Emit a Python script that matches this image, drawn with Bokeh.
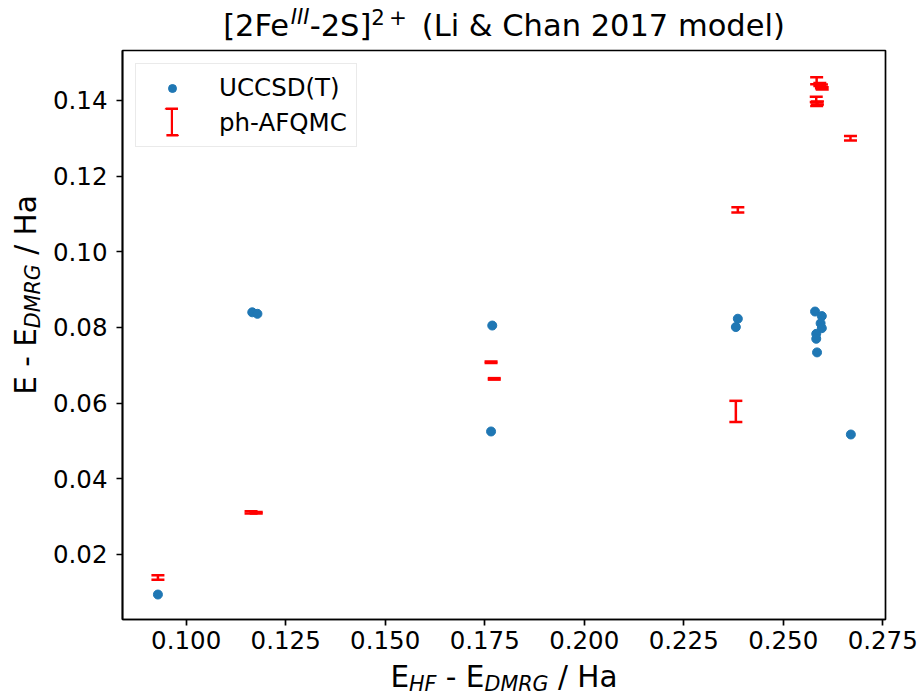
from bokeh.plotting import figure
from bokeh.layouts import column, row
from bokeh.models import (ColumnDataSource, Whisker, TeeHead, Range1d, FixedTicker,
                          PrintfTickFormatter, Label, Legend, LegendItem)
from bokeh.embed import file_html
from bokeh.resources import INLINE

# ---------------- data ----------------
uccsd_x = [0.0929, 0.1166, 0.1179, 0.1769, 0.1766, 0.2386, 0.2381,
           0.2580, 0.2597, 0.2594, 0.2597, 0.2583, 0.2583, 0.2585, 0.2670]
uccsd_y = [0.0094, 0.0840, 0.0836, 0.0805, 0.0525, 0.0823, 0.0801,
           0.0842, 0.0830, 0.0811, 0.0798, 0.0783, 0.0770, 0.0734, 0.0517]

afqmc_x = [0.0929, 0.1163, 0.1176, 0.1766, 0.1774, 0.2386, 0.2381,
           0.2584, 0.2596, 0.2592, 0.2598, 0.2583, 0.2586, 0.2584, 0.2669]
afqmc_y = [0.0139, 0.0311, 0.0310, 0.0708, 0.0664, 0.1111, 0.0578,
           0.1452, 0.1437, 0.1442, 0.1432, 0.1403, 0.1393, 0.1390, 0.1300]
afqmc_err = [0.0006, 0.0003, 0.0002, 0.0002, 0.0002, 0.0007, 0.0028,
             0.0009, 0.0005, 0.0004, 0.0003, 0.0007, 0.0004, 0.0005, 0.0006]

x_ticks = [0.100, 0.125, 0.150, 0.175, 0.200, 0.225, 0.250, 0.275]
y_ticks = [0.02, 0.04, 0.06, 0.08, 0.10, 0.12, 0.14]
x_limits = (0.0840, 0.2757)
y_limits = (0.0028, 0.1532)

series_labels = ["UCCSD(T)", "ph-AFQMC"]

# ---------------- layout constants ----------------
FONT = "DejaVu Sans"
TOTAL_W, TOTAL_H = 919, 696
TITLE_H = 46          # strip above the main figure
YLAB_W = 48           # strip left of the main figure
BL, BR, BT, BB = 74, 34, 4, 40
FH = 569
MAIN_W = TOTAL_W - YLAB_W
MAIN_H = BT + FH + BB
XLAB_H = TOTAL_H - TITLE_H - MAIN_H   # strip below the main figure
FW = MAIN_W - BL - BR
TICK_PX = 24.5
LABEL_PX = 29.5
TITLE_PX = 30.5
BASE_FIX = 0.34       # anchor sits this many em above the drawn baseline
BLUE = "#1f77b4"
RED = "#ff0000"

p = figure(width=MAIN_W, height=MAIN_H, output_backend="svg", toolbar_location=None,
           title=None,
           x_range=Range1d(*x_limits), y_range=Range1d(*y_limits),
           min_border_left=BL, min_border_right=BR,
           min_border_top=BT, min_border_bottom=BB)
p.background_fill_color = "white"
p.border_fill_color = "white"
p.outline_line_color = "black"
p.outline_line_width = 1.7
p.outline_line_alpha = 1.0
p.xgrid.visible = False
p.ygrid.visible = False

p.xaxis.ticker = FixedTicker(ticks=x_ticks)
p.yaxis.ticker = FixedTicker(ticks=y_ticks)
p.xaxis.formatter = PrintfTickFormatter(format="%.3f")
p.yaxis.formatter = PrintfTickFormatter(format="%.2f")
for ax in (p.xaxis[0], p.yaxis[0]):
    ax.major_tick_in = 0
    ax.major_tick_out = 6
    ax.minor_tick_in = 0
    ax.minor_tick_out = 0
    ax.axis_line_color = "black"
    ax.axis_line_width = 1.7
    ax.major_tick_line_color = "black"
    ax.major_tick_line_width = 1.7
    ax.major_label_text_font = FONT
    ax.major_label_text_font_size = f"{TICK_PX}px"
    ax.major_label_text_color = "black"
p.xaxis.major_label_standoff = 5
p.yaxis.major_label_standoff = 9

# ---------------- error bars (ph-AFQMC) ----------------
src_a = ColumnDataSource(dict(
    x=afqmc_x, y=afqmc_y,
    lower=[y - e for y, e in zip(afqmc_y, afqmc_err)],
    upper=[y + e for y, e in zip(afqmc_y, afqmc_err)],
))
whisk = Whisker(source=src_a, base="x", upper="upper", lower="lower",
                dimension="height", line_color=RED, line_width=2.5,
                upper_head=TeeHead(size=13, line_color=RED, line_width=2.5),
                lower_head=TeeHead(size=13, line_color=RED, line_width=2.5))
whisk.level = "glyph"
p.add_layout(whisk)

# ---------------- scatter (UCCSD(T)) ----------------
r_blue = p.scatter(uccsd_x, uccsd_y, size=9, fill_color=BLUE, line_color=BLUE)

# ---------------- legend ----------------
# invisible proxy for the error-bar row (its icon is drawn by overlay legends)
r_dummy = p.scatter(afqmc_x, afqmc_y, size=1, fill_alpha=0, line_alpha=0)
legA = Legend(items=[LegendItem(label=series_labels[0], renderers=[r_blue]),
                     LegendItem(label=series_labels[1], renderers=[r_dummy])],
              location="top_left", margin=13, padding=9, spacing=6,
              glyph_width=54, glyph_height=20, label_standoff=20,
              label_text_font=FONT, label_text_font_size=f"{TICK_PX}px",
              label_text_color="black",
              border_line_color="#d6d6d6", border_line_width=1.5,
              background_fill_color="white", background_fill_alpha=0.8)
p.add_layout(legA)

# "I" shaped error-bar icon: caps (dashed rect outline) + vertical bar.
# zero-size rects: invisible in the plot, but they give the legend its icon
r_caps = p.rect(afqmc_x, afqmc_y, width=0, height=0, fill_alpha=0,
                line_color=RED, line_width=2.5, line_dash="12 26")
r_vbar = p.rect(afqmc_x, afqmc_y, width=0, height=0, fill_color=RED,
                line_color=None)
icon_cx, icon_cy = 49.5, 71.0   # icon centre, px from frame left / top
for rend, gw in ((r_caps, 15), (r_vbar, 3)):
    gh = 33
    lg = Legend(items=[LegendItem(label=" ", renderers=[rend])],
                location=(icon_cx - gw / 2, FH - (icon_cy - gh / 2) - gh),
                margin=0, padding=0, spacing=0,
                glyph_width=gw, glyph_height=gh, label_standoff=0,
                label_width=0, label_height=0, label_text_font_size="1px",
                border_line_color=None, background_fill_alpha=0)
    p.add_layout(lg)

# ---------------- rich text strips (sub/superscripts) ----------------
WID = {" ": 0.318, "-": 0.361, "/": 0.337, "E": 0.632, "H": 0.752, "F": 0.575,
       "D": 0.770, "M": 0.863, "R": 0.695, "G": 0.775, "a": 0.613, "[": 0.390,
       "]": 0.390, "2": 0.636, "e": 0.615, "S": 0.635, "+": 0.838, "I": 0.295,
       "(": 0.390, ")": 0.390, "L": 0.557, "i": 0.278, "&": 0.780, "C": 0.698,
       "h": 0.634, "n": 0.634, "0": 0.636, "1": 0.636, "7": 0.636, "m": 0.974,
       "o": 0.612, "d": 0.635, "l": 0.278}


def tw(s, size):
    return sum(WID.get(c, 0.6) for c in s) * size


def text_fig(w, h):
    f = figure(width=w, height=h, output_backend="svg", toolbar_location=None,
               title=None, x_axis_type=None, y_axis_type=None, min_border=0,
               x_range=Range1d(0, w), y_range=Range1d(0, h))
    f.outline_line_color = None
    f.background_fill_color = "white"
    f.border_fill_color = "white"
    f.xgrid.visible = False
    f.ygrid.visible = False
    return f


def rich_label(fig, parts, cx, cy, angle=0.0):
    """parts: (text, font px, italic, baseline shift px); text None = gap of size px"""
    def width(t, s):
        return s if t is None else tw(t, s)
    total = sum(width(t, s) for t, s, _, _ in parts)
    pos = -total / 2
    for t, s, it, sh in parts:
        if t is None:
            pos += s
            continue
        lead = len(t) - len(t.lstrip(" "))
        pos += tw(" " * lead, s)
        body = t.strip(" ")
        up = sh + BASE_FIX * s
        if angle == 0:
            x, y = cx + pos, cy + up
        else:
            x, y = cx - up, cy + pos
        fig.add_layout(Label(x=x, y=y, x_units="screen", y_units="screen", text=body,
                             angle=angle, text_font=FONT, text_font_size=f"{s}px",
                             text_font_style="italic" if it else "normal",
                             text_align="left", text_baseline="alphabetic",
                             text_color="black"))
        pos += tw(body, s)


SUB = LABEL_PX * 0.7
SUPT = TITLE_PX * 0.7
title_parts = [("[2Fe", TITLE_PX, False, 0), ("III", SUPT, True, 12),
               ("-2S]", TITLE_PX, False, 0), ("2", SUPT, False, 12),
               (None, 4, False, 0), ("+", SUPT, False, 12),
               (None, 15, False, 0),
               ("(Li & Chan 2017 model)", TITLE_PX, False, 0)]
xlabel_parts = [("E", LABEL_PX, False, 0), ("HF", SUB, True, -4),
                (" - E", LABEL_PX, False, 0), ("DMRG", SUB, True, -4),
                (" / Ha", LABEL_PX, False, 0)]
ylabel_parts = [("E - E", LABEL_PX, False, 0), ("DMRG", SUB, True, -4),
                (" / Ha", LABEL_PX, False, 0)]

frame_cx = YLAB_W + BL + FW / 2          # page x of frame centre
frame_cy_from_bottom = BB + FH / 2       # within main figure

t_fig = text_fig(TOTAL_W, TITLE_H)
rich_label(t_fig, title_parts, frame_cx, TITLE_H - 35.5)

x_fig = text_fig(TOTAL_W, XLAB_H)
rich_label(x_fig, xlabel_parts, frame_cx, TOTAL_H - 686.8)

y_fig = text_fig(YLAB_W, MAIN_H)
rich_label(y_fig, ylabel_parts, 36, frame_cy_from_bottom, angle=1.5707963267948966)

layout = column(t_fig, row(y_fig, p, spacing=0), x_fig, spacing=0)

open("out.html", "w").write(file_html(layout, INLINE))
